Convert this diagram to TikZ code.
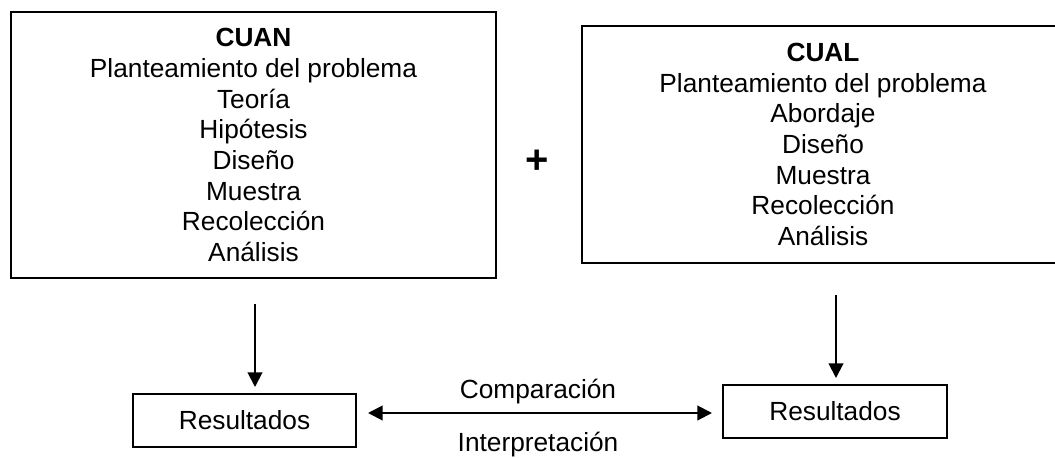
\documentclass[tikz,border=0pt]{standalone}
\usepackage{fontspec}
\setmainfont{Liberation Sans}
\usetikzlibrary{arrows.meta}
\tikzset{
  bigbox/.style={draw, line width=1.5pt, inner sep=0pt, align=center, font=\fontsize{19.7}{23}\selectfont},
  resbox/.style={draw, line width=1.5pt, inner sep=0pt, align=center, font=\fontsize{19.7}{23}\selectfont},
  lbl/.style={inner sep=0pt, font=\fontsize{19.7}{23}\selectfont},
  arr/.style={line width=1.5pt, -{Triangle[length=11pt,width=11pt]}},
  dblarr/.style={line width=1.5pt, {Triangle[length=11pt,width=11pt]}-{Triangle[length=11pt,width=11pt]}}
}
\begin{document}
\begin{tikzpicture}[x=0.75pt,y=-0.75pt]
\useasboundingbox (0,0) rectangle (1055,457);
\node[bigbox, minimum width=363.75pt, minimum height=199.5pt] (cuan) at (253.5,145)
  {\textbf{CUAN}\\Planteamiento del problema\\Teoría\\Hipótesis\\Diseño\\Muestra\\Recolección\\Análisis};
\node[bigbox, minimum width=361.5pt, minimum height=177.75pt] (cual) at (823,144.5)
  {\textbf{CUAL}\\Planteamiento del problema\\Abordaje\\Diseño\\Muestra\\Recolección\\Análisis};
\node[inner sep=0pt, font=\fontsize{30}{34}\selectfont\bfseries] (plus) at (537,162) {+};
\node[resbox, minimum width=167.25pt, minimum height=39.75pt] (res1) at (244.5,420.5) {Resultados};
\node[resbox, minimum width=168pt, minimum height=39.75pt] (res2) at (835,411.5) {Resultados};
\node[lbl] (comp) at (538,392) {Comparación};
\node[lbl] (interp) at (538,445) {Interpretación};
\draw[arr, shorten <=18.75pt, shorten >=4.5pt] (cuan.south -| 255,0) -- (res1.north -| 255,0);
\draw[arr, shorten <=23.25pt, shorten >=4.5pt] (cual.south -| 836,0) -- (res2.north -| 836,0);
\draw[dblarr, shorten <=8.25pt, shorten >=7.5pt] (res1.east |- 0,413) -- (res2.west |- 0,413);
\end{tikzpicture}
\end{document}
